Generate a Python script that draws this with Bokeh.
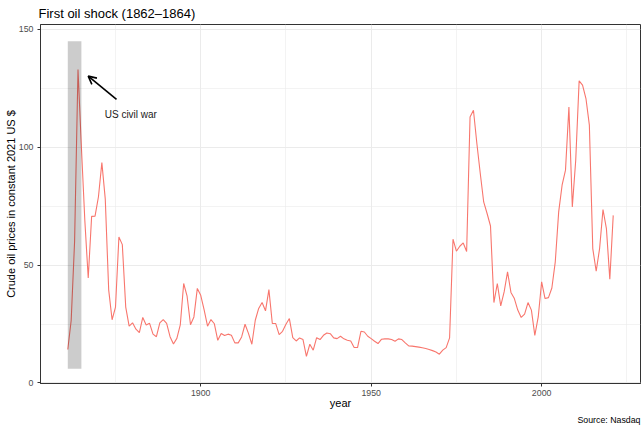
from bokeh.plotting import figure
from bokeh.models import Range1d, FixedTicker, Label, Arrow, OpenHead, Title
from bokeh.embed import file_html
from bokeh.resources import INLINE

# ---- data ----
years = list(range(1861, 2022))
prices = [
    14.2, 26.5, 60.0, 133.0, 100.0, 69.0, 44.5, 70.7, 70.8,               # 1861-1869
    79.0, 93.5, 78.0, 39.5, 26.8, 32.2, 61.9, 58.7, 32.2, 24.1,           # 1870s
    25.5, 22.8, 21.3, 27.8, 24.6, 25.3, 20.7, 19.6, 25.5, 26.9,           # 1880s
    25.3, 19.6, 16.5, 18.9, 24.6, 42.2, 36.8, 24.7, 28.0, 40.1,           # 1890s
    37.2, 31.0, 24.1, 26.9, 25.1, 18.1, 21.0, 20.1, 20.7, 20.2,           # 1900s
    17.0, 17.0, 19.5, 24.9, 21.0, 16.4, 26.6, 31.6, 34.1, 30.6,           # 1910s
    39.6, 25.2, 25.2, 20.5, 21.9, 24.9, 27.3, 19.2, 17.8, 19.1,           # 1920s
    18.4, 11.3, 16.4, 13.9, 19.2, 18.4, 20.2, 21.2, 20.9, 19.1,           # 1930s
    18.8, 19.8, 18.7, 18.1, 17.8, 15.0, 15.0, 21.9, 21.6, 19.8,           # 1940s
    18.8, 17.7, 16.7, 18.5, 18.7, 18.7, 18.4, 17.7, 18.7, 18.4,           # 1950s
    17.0, 15.7, 15.6, 15.4, 15.2, 14.9, 14.6, 14.2, 13.7, 13.1,           # 1960s
    12.2, 13.9, 15.0, 19.1, 61.0, 55.9, 58.0, 59.4, 55.8, 112.9,          # 1970s
    115.7, 101.6, 88.9, 76.8, 71.9, 66.6, 34.1, 42.2, 32.7, 38.6,         # 1980s
    47.1, 38.4, 35.8, 30.9, 27.8, 29.2, 34.1, 30.9, 20.2, 28.0,           # 1990s
    42.9, 35.8, 36.2, 40.3, 51.4, 72.6, 83.9, 90.3, 117.1, 74.7,          # 2000s
    94.5, 128.2, 126.4, 120.7, 109.4, 57.0, 47.4, 57.0, 73.6, 65.5,       # 2010s
    44.0, 71.1,                                                           # 2020-2021
]
x_ticks = [1900, 1950, 2000]
x_minor = [1875, 1925, 1975, 2025]
y_ticks = [0, 50, 100, 150]
y_minor = [25, 75, 125]
war_x = [1861, 1865]
war_y = [6, 145]
arrow_from = (1875.3, 120.3)
arrow_to = (1867.0, 130.2)
note_text = "US civil war"
note_pos = (1879.5, 114.0)

title_text = "First oil shock (1862\u20131864)"
x_label = "year"
y_label = "Crude oil prices in constant 2021 US $"
caption = "Source: Nasdaq"

FONT = "Liberation Sans"

p = figure(width=641, height=425, output_backend="svg", toolbar_location=None,
           x_range=Range1d(1853.0, 2029.0), y_range=Range1d(-0.25, 152.12),
           min_border_left=40, min_border_right=1, min_border_top=24,
           min_border_bottom=42)

p.background_fill_color = "white"
p.border_fill_color = "white"
p.outline_line_color = "#333333"
p.outline_line_width = 1

p.title.text = title_text
p.title.text_font = FONT
p.title.text_font_size = "13px"
p.title.text_font_style = "normal"
p.title.text_color = "black"
p.title.align = "left"
p.title.offset = -2
p.title.standoff = 7

p.add_layout(Title(text=caption, align="right", text_font=FONT,
                   text_font_size="8.8px", text_font_style="normal",
                   text_color="black", standoff=2, offset=0), "below")

for ax in (p.xaxis, p.yaxis):
    ax.axis_line_color = "#333333"
    ax.axis_line_width = 1
    ax.major_tick_line_color = "#333333"
    ax.major_tick_in = 0
    ax.major_tick_out = 3
    ax.minor_tick_line_color = None
    ax.major_label_text_font = FONT
    ax.major_label_text_font_size = "8.8px"
    ax.major_label_text_color = "#4D4D4D"
    ax.axis_label_text_font = FONT
    ax.axis_label_text_font_size = "11px"
    ax.axis_label_text_font_style = "normal"
    ax.axis_label_text_color = "black"

p.xaxis.major_label_standoff = 2
p.yaxis.major_label_standoff = 3
p.xaxis.axis_label_standoff = -2
p.yaxis.axis_label_standoff = -1

p.xaxis.axis_label = x_label
p.yaxis.axis_label = y_label
p.xaxis.ticker = FixedTicker(ticks=x_ticks, minor_ticks=x_minor)
p.yaxis.ticker = FixedTicker(ticks=y_ticks, minor_ticks=y_minor)

for g in (p.xgrid, p.ygrid):
    g.grid_line_color = "#EBEBEB"
    g.grid_line_width = 1
    g.minor_grid_line_color = "#EBEBEB"
    g.minor_grid_line_width = 0.6

p.line(years, prices, line_color="#F8766D", line_width=1.1)

p.quad(left=[war_x[0]], right=[war_x[1]], bottom=[war_y[0]], top=[war_y[1]],
       fill_color="black", fill_alpha=0.2, line_color=None)

p.add_layout(Arrow(end=OpenHead(size=8, line_color="black", line_width=1.6),
                   x_start=arrow_from[0], y_start=arrow_from[1],
                   x_end=arrow_to[0], y_end=arrow_to[1],
                   line_color="black", line_width=1.6))

p.add_layout(Label(x=note_pos[0], y=note_pos[1], text=note_text,
                   text_font=FONT, text_font_size="10px", text_color="#1A1A1A",
                   text_align="center", text_baseline="middle"))

open("out.html", "w").write(file_html(p, INLINE))
